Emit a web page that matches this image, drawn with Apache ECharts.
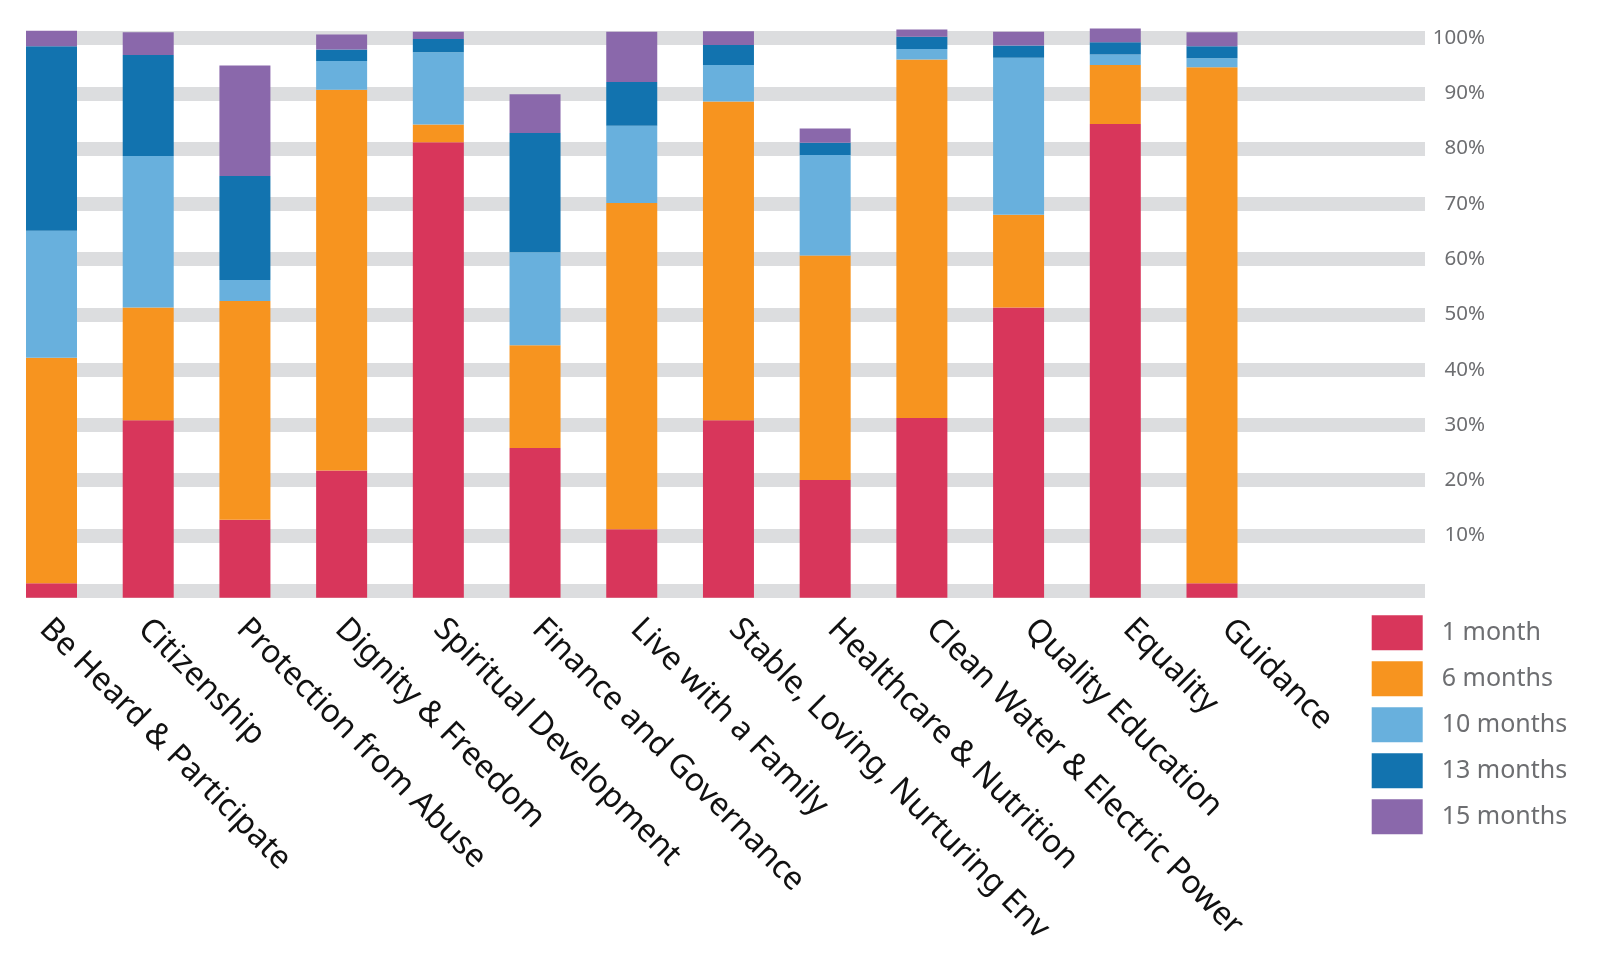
<!DOCTYPE html>
<html>
<head>
<meta charset="utf-8">
<script src="https://cdn.jsdelivr.net/npm/echarts@6/dist/echarts.min.js"></script>
<style>
html,body{margin:0;padding:0;background:#fff;}
#chart{width:1600px;height:974px;}
</style>
</head>
<body>
<div id="chart"></div>
<script>
const categories = [
  'Be Heard & Participate', 'Citizenship', 'Protection from Abuse', 'Dignity & Freedom',
  'Spiritual Development', 'Finance and Governance', 'Live with a Family',
  'Stable, Loving, Nurturing Env', 'Healthcare & Nutrition', 'Clean Water & Electric Power',
  'Quality Education', 'Equality', 'Guidance'
];
const seriesNames = ['1 month', '6 months', '10 months', '13 months', '15 months'];
const month1  = [2.6, 32.1, 14.1, 23.0, 82.4, 27.1, 12.4, 32.1, 21.3, 32.5, 52.5, 85.7, 2.6];
const month6  = [40.8, 20.4, 39.6, 68.9, 3.2, 18.6, 59.0, 57.7, 40.6, 64.9, 16.8, 10.7, 93.4];
const month10 = [23.0, 27.4, 3.8, 5.2, 13.1, 16.8, 14.0, 6.6, 18.2, 1.9, 28.4, 1.9, 1.6];
const month13 = [33.4, 18.3, 18.8, 2.1, 2.4, 21.6, 7.9, 3.6, 2.2, 2.2, 2.2, 2.2, 2.2];
const month15 = [2.8, 4.1, 20.0, 2.7, 1.3, 7.0, 9.1, 2.5, 2.6, 1.3, 2.5, 2.5, 2.5];
const yTickValues = [0, 10, 20, 30, 40, 50, 60, 70, 80, 90, 100];

const colors = ['#d8365b', '#f7941f', '#68b0dd', '#1273af', '#8a68ab'];
const values = [month1, month6, month10, month13, month15];
const FONT = 'Noto Sans';

const chart = echarts.init(document.getElementById('chart'), null, {renderer: 'canvas'});
const option = {
  animation: false,
  backgroundColor: '#ffffff',
  grid: [
    {left: 3.15, top: 17.4, width: 1257.2, height: 580.3},
    {left: 26, top: 38, width: 1399, height: 552.8},
    {left: 44.7, top: 17.4, width: 1182, height: 580.6}
  ],
  xAxis: [
    {gridIndex: 0, type: 'category', data: categories, show: false},
    {gridIndex: 1, type: 'value', min: 0, max: 1, show: false},
    {
      gridIndex: 2, type: 'category', data: categories, boundaryGap: false,
      axisLine: {show: false}, axisTick: {show: false}, splitLine: {show: false},
      axisLabel: {
        interval: 0, rotate: -45, margin: 26, fontSize: 32,
        fontFamily: FONT, color: '#111111'
      }
    }
  ],
  yAxis: [
    {gridIndex: 0, type: 'value', min: 0, max: 105, show: false},
    {
      gridIndex: 1, type: 'value', min: yTickValues[0], max: yTickValues[yTickValues.length - 1],
      interval: 10, position: 'right',
      axisLine: {show: false}, axisTick: {show: false},
      splitLine: {show: true, lineStyle: {color: '#dcdddf', width: 14}},
      axisLabel: {
        margin: 60, align: 'right', fontSize: 20.5, fontFamily: FONT, color: '#6d6e71',
        formatter: v => (v === 0 ? '' : v + '%')
      }
    },
    {gridIndex: 2, type: 'value', min: 0, max: 1, show: false}
  ],
  legend: {
    orient: 'vertical', left: 1371.7, top: 615.3, padding: 0,
    itemWidth: 51, itemHeight: 35, itemGap: 11, icon: 'rect',
    selectedMode: false,
    textStyle: {fontSize: 25, fontFamily: FONT, color: '#6d6e71', padding: [0, 0, 0, 14]},
    data: seriesNames
  },
  series: seriesNames.map((name, i) => ({
    name: name,
    type: 'bar',
    stack: 'total',
    xAxisIndex: 0,
    yAxisIndex: 0,
    barWidth: 51,
    itemStyle: {color: colors[i]},
    data: values[i]
  }))
};
chart.setOption(option);
</script>
</body>
</html>
